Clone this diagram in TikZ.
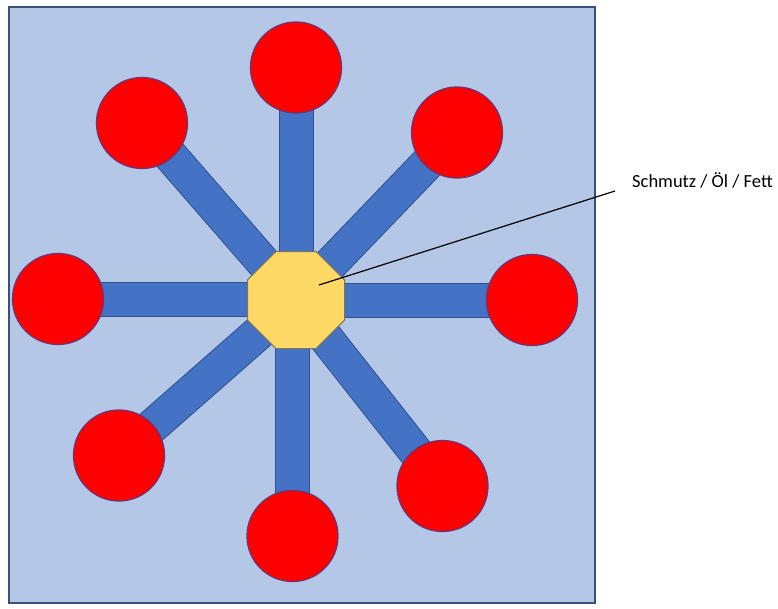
\documentclass[tikz,border=0pt]{standalone}
\usepackage{fontspec}
\setmainfont{Carlito}
\usetikzlibrary{shapes.geometric}
\definecolor{bgfill}{RGB}{180,199,231}
\definecolor{bgline}{RGB}{60,80,125}
\definecolor{barfill}{RGB}{68,114,196}
\definecolor{barline}{RGB}{47,82,143}
\definecolor{ballfill}{RGB}{255,0,0}
\definecolor{ballline}{RGB}{115,50,110}
\definecolor{octfill}{RGB}{255,217,102}
\definecolor{octline}{RGB}{125,115,95}
\tikzset{
  ball/.style={circle, fill=ballfill, draw=ballline, line width=1.3pt, minimum size=91pt, inner sep=0pt},
  bar/.style={line width=1pt, draw=barline, double=barfill, double distance=33pt},
  oct/.style={regular polygon, regular polygon sides=8, fill=octfill, draw=octline, line width=1pt, minimum size=105pt, inner sep=0pt},
  lbl/.style={font=\fontsize{18.5pt}{22pt}\selectfont, inner sep=0pt, anchor=base west},
}
\begin{document}
\begin{tikzpicture}[x=1pt,y=-1pt]
\useasboundingbox (0,0) rectangle (778,608);
\node[draw=bgline, fill=bgfill, line width=1.5pt, minimum width=586pt, minimum height=596pt, inner sep=0pt, anchor=north west] (bg) at (8,6) {};
\coordinate (ctr) at (296,300);
\coordinate (ctrb) at (292.5,300);
\coordinate (ctrl) at (296,299);
\coordinate (pt) at (296,67.5);
\coordinate (ptl) at (142,123);
\coordinate (ptr) at (457,132.5);
\coordinate (pl) at (58,299);
\coordinate (pr) at (532,300);
\coordinate (pbl) at (119,455.5);
\coordinate (pb) at (292.5,536);
\coordinate (pbr) at (442.5,486);
\foreach \p in {pt,ptl,ptr,pr,pbl,pbr}{
  \draw[bar] (ctr) -- (\p);
}
\draw[bar] (ctrl) -- (pl);
\draw[bar] (ctrb) -- (pb);
\node[oct] (octa) at (ctr) {};
\node[ball] (bt) at (pt) {};
\node[ball] (btl) at (ptl) {};
\node[ball] (btr) at (ptr) {};
\node[ball] (bl) at (pl) {};
\node[ball] (br) at (pr) {};
\node[ball] (bbl) at (pbl) {};
\node[ball] (bb) at (pb) {};
\node[ball] (bbr) at (pbr) {};
\node[lbl] (label) at (632,187) {Schmutz / Öl / Fett};
\coordinate (lin) at (319,285);
\coordinate (lout) at (615,191);
\draw[line width=1.2pt, black] (lin) -- (lout);
\end{tikzpicture}
\end{document}
